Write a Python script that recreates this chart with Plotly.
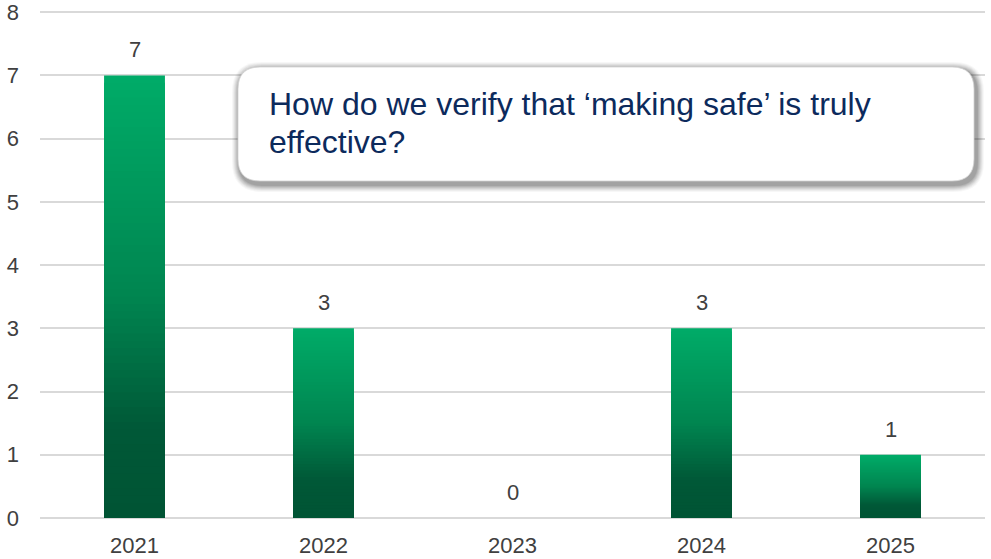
import plotly.graph_objects as go

years = ["2021", "2022", "2023", "2024", "2025"]
counts = [7, 3, 0, 3, 1]
y_ticks = [0, 1, 2, 3, 4, 5, 6, 7, 8]
callout_lines = ["How do we verify that \u2018making safe\u2019 is truly", "effective?"]

W, H = 991, 559
ML, MR, MT, MB = 40, 6, 11, 41
PW, PH = W - ML - MR, H - MT - MB
Y_MAX = 8.02

FONT = "Arial, Liberation Sans, sans-serif"

# gradient stops from top (0) to bottom (1) of each bar
stops = [(0.0, (0, 172, 104)), (0.5, (0, 133, 80)), (0.8, (0, 88, 55)), (1.0, (0, 84, 52))]


def grad(t):
    for (t0, c0), (t1, c1) in zip(stops[:-1], stops[1:]):
        if t <= t1:
            f = (t - t0) / (t1 - t0) if t1 > t0 else 0
            return "rgb(%d,%d,%d)" % tuple(round(a + (b - a) * f) for a, b in zip(c0, c1))
    return "rgb(%d,%d,%d)" % stops[-1][1]


fig = go.Figure()
N = 60
for k in range(N):
    frac = (N - k) / N
    fig.add_trace(go.Bar(
        x=years, y=[v * frac for v in counts],
        marker=dict(color=grad((k + 0.5) / N), line=dict(width=0)),
        hoverinfo="skip", showlegend=False,
    ))

# data labels (category index positions)
for i, v in enumerate(counts):
    fig.add_annotation(x=i, y=v, text=str(v), showarrow=False, yanchor="bottom",
                       yshift=11, font=dict(family=FONT, size=22, color="#404040"))


def px(X):
    return (X - ML) / PW


def py(Y):
    return (MT + PH - Y) / PH


def rrect(x0, y0, x1, y1, r):
    pts = [
        ("M", x0 + r, y0), ("L", x1 - r, y0), ("Q", x1, y0, x1, y0 + r),
        ("L", x1, y1 - r), ("Q", x1, y1, x1 - r, y1), ("L", x0 + r, y1),
        ("Q", x0, y1, x0, y1 - r), ("L", x0, y0 + r), ("Q", x0, y0, x0 + r, y0),
    ]
    s = ""
    for p in pts:
        cmd = p[0]
        coords = p[1:]
        parts = []
        for i in range(0, len(coords), 2):
            parts.append("%.5f,%.5f" % (px(coords[i]), py(coords[i + 1])))
        s += cmd + " " + " ".join(parts) + " "
    return s + "Z"


bx0, by0, bx1, by1, br = 238, 67, 974, 181, 22
# soft shadow
for i, op in enumerate([0.03, 0.04, 0.05, 0.06, 0.07, 0.08, 0.09]):
    g = 8 - i
    fig.add_shape(type="path", xref="paper", yref="paper",
                  path=rrect(bx0 - g + 2, by0 - g + 3, bx1 + g + 2, by1 + g + 3, br + g),
                  fillcolor="rgba(0,0,0,%.2f)" % op, line=dict(width=0), layer="above")
fig.add_shape(type="path", xref="paper", yref="paper", path=rrect(bx0, by0, bx1, by1, br),
              fillcolor="white", line=dict(color="#d0d0d0", width=0.8), layer="above")

for i, line in enumerate(callout_lines):
    fig.add_annotation(xref="paper", yref="paper", x=px(267), y=py(104 + 38 * i), text=line,
                       showarrow=False, xanchor="left", yanchor="middle", align="left",
                       font=dict(family=FONT, size=32, color="#0c2a5c"))

fig.update_layout(
    width=W, height=H, margin=dict(l=ML, r=MR, t=MT, b=MB, autoexpand=False),
    barmode="overlay", bargap=0.678,
    plot_bgcolor="white", paper_bgcolor="white",
    xaxis=dict(type="category", range=[-0.5, len(years) - 0.5], showgrid=False, showline=False,
               automargin=False, ticks="", ticklabeloverflow="allow",
               tickfont=dict(family=FONT, size=22, color="#404040"), ticklabelstandoff=12),
    yaxis=dict(range=[0, Y_MAX], tickvals=y_ticks, showgrid=True, gridcolor="#d9d9d9", gridwidth=1.5,
               zeroline=True, zerolinecolor="#d9d9d9", zerolinewidth=1.5, showline=False, ticks="",
               automargin=False, ticklabeloverflow="allow",
               tickfont=dict(family=FONT, size=22, color="#404040"), ticklabelstandoff=20),
    showlegend=False,
)

fig.write_html("out.html", config={"displayModeBar": False},
               post_script="document.body.style.margin='0';document.body.style.overflow='hidden';")
